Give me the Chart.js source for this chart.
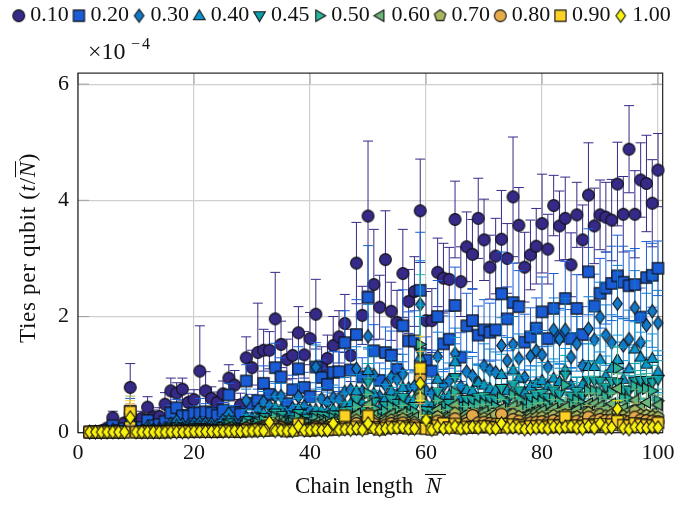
<!DOCTYPE html>
<html>
<head>
<meta charset="utf-8">
<title>Ties per qubit</title>
<script src="https://cdn.jsdelivr.net/npm/chart.js@4"></script>
<style>
  body { margin: 0; background: #fff; }
  canvas { display: block; }
</style>
</head>
<body>
<canvas id="myChart" width="677" height="508"></canvas>
<script>
const chainLengths = [2,3,4,5,6,7,8,9,10,
  11,12,13,14,15,16,17,18,19,20,
  21,22,23,24,25,26,27,28,29,30,
  31,32,33,34,35,36,37,38,39,40,
  41,42,43,44,45,46,47,48,49,50,
  51,52,53,54,55,56,57,58,59,60,
  61,62,63,64,65,66,67,68,69,70,
  71,72,73,74,75,76,77,78,79,80,
  81,82,83,84,85,86,87,88,89,90,
  91,92,93,94,95,96,97,98,99,100];

const seriesNames = ["0.10","0.20","0.30","0.40","0.45","0.50","0.60","0.70","0.80","0.90","1.00"];
const seriesColors = ["#352a87","#1a5cd6","#1279c9","#0d93d0","#0a9fab","#2bb59b","#6cb77a","#a9b760","#e5ab4a","#fdd225","#f9f10e"];
const seriesShapes = ["circle","square","diamond","up","down","right","left","pentagon","circle","square","diamond"];

const v10 = [.01,.02,.03,.08,.26,.05,.17,.78,.20,
  .25,.44,.27,.28,.49,.72,.68,.75,.52,.57,
  1.06,.72,.59,.52,.67,.94,.82,.48,1.29,1.12,
  1.38,1.42,1.42,1.96,1.52,1.26,1.33,1.72,1.34,1.62,
  2.04,1.13,1.28,1.50,1.65,1.88,1.33,2.92,2.02,3.73,
  2.55,2.16,2.98,2.09,1.90,2.74,2.26,2.43,3.82,1.93,
  1.93,2.76,2.66,2.64,3.67,2.60,3.20,3.07,3.69,3.32,
  2.85,3.04,3.33,3.00,4.06,3.57,2.85,3.06,3.21,3.60,
  3.16,3.91,3.56,3.69,2.89,3.75,3.32,4.09,3.56,3.75,
  3.71,3.66,4.28,3.76,4.88,3.76,4.35,4.29,3.95,4.52];
const e10 = [.01,.01,.02,.04,.11,.05,.08,.41,.10,
  .12,.18,.12,.15,.20,.22,.18,.19,.16,.17,
  .78,.33,.20,.18,.22,.23,.25,.20,.36,.30,
  .85,.36,.32,.80,.40,.35,.40,.45,.40,.45,
  .60,.35,.40,.50,.45,.50,.45,.70,.50,1.29,
  .95,.55,.84,.50,.55,.76,.55,.60,.89,.50,
  .55,.59,.60,.55,.66,.60,.60,.60,.69,.70,
  .55,.65,.84,.60,1.03,.65,.60,.60,.65,.85,
  .60,.52,.60,.71,.55,.56,.60,.90,.65,.60,
  .60,.70,.72,.65,.75,.75,.64,.83,.75,.63];

const v20 = [.01,.01,.02,.04,.12,.04,.07,.37,.06,
  .09,.21,.12,.14,.19,.34,.43,.29,.29,.34,
  .34,.36,.34,.30,.39,.65,.35,.32,.89,.50,
  .55,.85,.66,1.12,.96,.50,.74,1.10,.78,.62,
  1.13,.95,.83,1.04,1.05,1.55,1.08,1.69,.96,2.33,
  1.41,.90,1.38,1.33,1.09,1.84,1.58,1.58,2.45,1.25,
  1.06,2.00,1.53,1.61,2.19,1.30,1.84,1.93,1.68,1.77,
  1.73,1.77,2.39,1.96,2.24,2.17,1.56,1.65,1.80,2.08,
  1.62,2.14,1.66,2.31,1.62,2.14,1.69,2.77,2.18,2.40,
  2.49,2.57,2.70,2.59,2.53,2.55,1.99,2.67,2.71,2.83];
const e20 = [.01,.01,.01,.02,.05,.03,.04,.22,.04,
  .05,.08,.06,.07,.09,.13,.14,.10,.10,.12,
  .25,.14,.11,.10,.13,.20,.12,.11,.28,.16,
  .20,.30,.22,.42,.33,.18,.25,.38,.26,.24,
  .42,.30,.28,.36,.34,.55,.35,.60,.33,.89,
  .45,.30,.44,.42,.35,.62,.50,.52,1.00,.40,
  .36,.62,.48,.50,.66,.42,.56,.55,.50,.52,
  .50,.52,.72,.55,.68,.62,.48,.50,.52,.60,
  .46,.60,.48,.64,.50,.58,.48,.74,.55,.60,
  .62,.64,.70,.62,.60,.62,.50,.62,.55,.47];

const v30 = [.01,.01,.01,.02,.05,.02,.03,.27,.03,
  .04,.10,.05,.07,.08,.15,.20,.14,.12,.16,
  .17,.16,.15,.13,.21,.33,.18,.15,.55,.24,
  .40,.53,.46,.63,.63,.35,.42,.62,.45,.38,
  1.13,.58,.52,.60,.58,.70,.74,1.10,.71,1.66,
  .99,.62,.82,.95,.92,1.01,.76,.80,2.21,.72,
  .68,1.31,.81,.90,1.36,.79,1.05,.98,.86,1.15,
  1.08,1.04,1.50,1.24,1.52,1.28,.95,1.32,1.41,1.34,
  1.13,1.77,1.61,1.77,1.30,1.53,1.15,1.79,1.60,1.99,
  1.68,1.55,2.22,1.50,1.61,2.15,1.55,1.85,2.09,1.89];
const e30 = [.01,.01,.01,.01,.03,.02,.02,.16,.03,
  .03,.05,.04,.04,.05,.07,.09,.07,.06,.07,
  .09,.07,.07,.06,.09,.13,.08,.07,.20,.10,
  .15,.18,.16,.22,.22,.13,.15,.22,.17,.15,
  .38,.20,.18,.22,.20,.25,.26,.38,.25,.55,
  .33,.22,.28,.32,.30,.34,.27,.28,.75,.25,
  .24,.42,.28,.30,.44,.27,.35,.33,.30,.38,
  .36,.35,.48,.40,.48,.42,.32,.42,.45,.42,
  .36,.55,.50,.54,.42,.47,.38,.55,.50,.60,
  .52,.48,.66,.46,.50,.64,.48,.55,.62,.56];

const v40 = [.01,.01,.01,.01,.03,.01,.02,.22,.02,
  .03,.06,.03,.05,.05,.10,.13,.09,.08,.10,
  .11,.10,.10,.08,.14,.22,.12,.10,.27,.16,
  .26,.34,.30,.44,.40,.24,.28,.42,.32,.26,
  .40,.38,.36,.40,.38,.48,.50,.72,.50,1.07,
  .68,.42,.60,.72,.65,.78,.55,.58,1.30,.50,
  .46,.92,.60,.65,1.22,.60,.74,.72,.87,.82,
  .76,.73,1.00,.73,1.08,.94,.70,.80,.85,.90,
  .80,.94,.88,1.08,.82,.70,.83,1.14,1.14,1.26,
  .98,1.11,1.26,.92,1.10,1.44,1.30,1.18,1.28,1.05];
const e40 = [.01,.01,.01,.01,.02,.01,.02,.14,.02,
  .02,.03,.02,.03,.03,.05,.06,.05,.04,.05,
  .06,.05,.05,.04,.07,.09,.06,.05,.12,.07,
  .12,.14,.12,.18,.16,.10,.12,.17,.13,.11,
  .22,.15,.14,.16,.15,.19,.20,.28,.20,.40,
  .26,.16,.23,.27,.24,.29,.21,.22,.70,.19,
  .18,.34,.22,.24,.42,.23,.27,.26,.31,.29,
  .27,.26,.35,.26,.37,.33,.25,.28,.30,.31,
  .28,.33,.31,.37,.29,.25,.29,.39,.39,.42,
  .34,.38,.42,.32,.37,.47,.43,.40,.42,.36];

const v45 = [.01,.01,.01,.01,.02,.01,.02,.19,.02,
  .02,.05,.03,.04,.04,.08,.10,.07,.06,.08,
  .09,.08,.07,.07,.11,.17,.10,.08,.21,.12,
  .20,.26,.23,.34,.30,.18,.22,.33,.25,.20,
  .30,.29,.27,.31,.29,.37,.38,.56,.38,.86,
  .52,.33,.46,.56,.50,.60,.42,.45,1.39,.38,
  .36,.70,.46,.50,.95,.45,.57,.55,.60,.62,
  .58,.56,.76,.55,.82,.72,.53,.60,.64,.68,
  .60,.72,.66,.99,.62,.70,.63,.90,.90,.88,
  .78,.88,.86,.74,.72,.88,.90,.90,.86,.92];
const e45 = [.01,.01,.01,.01,.01,.01,.01,.13,.01,
  .01,.03,.02,.02,.02,.04,.05,.04,.03,.04,
  .05,.04,.04,.04,.05,.08,.05,.04,.10,.06,
  .09,.11,.10,.14,.13,.08,.10,.14,.11,.09,
  .13,.12,.11,.13,.12,.15,.16,.22,.16,.33,
  .21,.13,.18,.22,.20,.23,.17,.18,.80,.15,
  .14,.26,.18,.20,.34,.17,.22,.21,.23,.24,
  .22,.21,.28,.21,.30,.27,.20,.23,.24,.25,
  .22,.27,.25,.34,.23,.26,.23,.32,.32,.31,
  .28,.31,.31,.27,.26,.31,.32,.32,.30,.32];

const v50 = [.01,.01,.01,.01,.02,.01,.01,.16,.01,
  .02,.04,.02,.03,.03,.06,.08,.06,.05,.06,
  .07,.06,.06,.05,.09,.13,.08,.06,.17,.10,
  .16,.21,.18,.27,.24,.14,.17,.26,.20,.16,
  .24,.23,.21,.25,.23,.30,.30,.45,.30,.68,
  .42,.26,.37,.45,.40,.48,.34,.36,1.52,.30,
  .28,.56,.37,.40,.70,.36,.45,.44,.48,.50,
  .46,.45,.60,.44,.65,.58,.42,.48,.52,.54,
  .48,.58,.53,.82,.50,.56,.50,.72,.72,.70,
  .62,.70,1.11,.60,.58,.80,.75,.76,.72,.55];
const e50 = [.01,.01,.01,.01,.01,.01,.01,.12,.01,
  .01,.02,.01,.02,.02,.03,.04,.03,.03,.03,
  .04,.03,.03,.03,.04,.06,.04,.03,.08,.05,
  .07,.09,.08,.11,.10,.06,.07,.11,.08,.07,
  .10,.10,.09,.10,.09,.12,.12,.17,.12,.26,
  .16,.10,.14,.17,.15,.18,.13,.14,1.20,.12,
  .11,.20,.14,.15,.25,.14,.17,.16,.18,.18,
  .17,.16,.21,.16,.23,.21,.15,.17,.19,.19,
  .17,.21,.19,.28,.18,.20,.18,.25,.25,.24,
  .22,.24,.36,.21,.20,.27,.25,.26,.25,.20];

const v60 = [.01,.01,.01,.01,.01,.01,.01,.13,.01,
  .01,.03,.02,.02,.03,.04,.06,.04,.04,.05,
  .05,.05,.05,.04,.06,.10,.06,.05,.13,.08,
  .12,.15,.13,.20,.18,.10,.13,.19,.15,.12,
  .18,.17,.16,.18,.17,.22,.22,.32,.22,.48,
  .30,.19,.27,.32,.29,.34,.25,.26,.70,.22,
  .21,.40,.27,.29,.48,.26,.33,.31,.34,.36,
  .33,.32,.42,.32,.46,.41,.30,.34,.37,.38,
  .34,.42,.38,.44,.36,.40,.36,.50,.50,.46,
  .42,.50,.76,.42,.38,.56,.44,.52,.34,.48];
const e60 = [.01,.01,.01,.01,.01,.01,.01,.14,.01,
  .01,.01,.01,.01,.01,.02,.03,.02,.02,.02,
  .02,.02,.02,.02,.03,.04,.03,.02,.05,.03,
  .05,.06,.05,.08,.07,.04,.05,.07,.06,.05,
  .07,.07,.06,.07,.07,.08,.08,.12,.08,.18,
  .11,.07,.10,.12,.11,.13,.10,.10,.50,.08,
  .08,.15,.10,.11,.17,.10,.12,.11,.12,.13,
  .12,.12,.15,.12,.16,.15,.11,.12,.13,.14,
  .12,.15,.14,.16,.13,.14,.13,.18,.18,.16,
  .15,.18,.26,.15,.14,.19,.16,.18,.12,.17];

const v70 = [.01,.01,.01,.01,.01,.01,.01,.11,.01,
  .01,.02,.01,.02,.02,.03,.04,.03,.03,.03,
  .04,.03,.03,.03,.05,.07,.04,.03,.09,.06,
  .08,.10,.09,.14,.12,.07,.09,.13,.10,.08,
  .12,.12,.11,.13,.12,.15,.16,.22,.16,.33,
  .21,.13,.19,.22,.20,.24,.17,.18,.60,.15,
  .14,.28,.18,.20,.34,.18,.23,.22,.24,.25,
  .23,.30,.30,.22,.32,.28,.21,.24,.26,.27,
  .24,.30,.27,.31,.25,.28,.25,.35,.30,.32,
  .29,.31,.33,.29,.27,.38,.31,.30,.28,.27];
const e70 = [.01,.01,.01,.01,.01,.01,.01,.52,.01,
  .01,.01,.01,.01,.01,.01,.02,.01,.01,.01,
  .02,.01,.01,.01,.02,.03,.02,.01,.03,.02,
  .03,.04,.03,.05,.04,.03,.03,.05,.04,.03,
  .04,.04,.04,.05,.04,.05,.06,.08,.06,.12,
  .07,.05,.07,.08,.07,.09,.06,.06,.40,.05,
  .05,.10,.06,.07,.12,.06,.08,.08,.08,.09,
  .08,.10,.10,.08,.11,.10,.07,.08,.09,.09,
  .08,.10,.09,.11,.09,.10,.09,.12,.10,.11,
  .10,.11,.12,.10,.09,.13,.11,.10,.10,.09];

const v80 = [.01,.01,.01,.01,.01,.01,.01,.32,.01,
  .01,.02,.01,.01,.02,.02,.03,.02,.02,.02,
  .03,.03,.02,.02,.03,.05,.03,.03,.07,.04,
  .06,.07,.06,.10,.09,.05,.06,.09,.07,.06,
  .09,.08,.08,.09,.09,.11,.11,.16,.11,.24,
  .15,.09,.13,.16,.14,.17,.12,.13,.95,.10,
  .10,.20,.13,.14,.24,.13,.16,.30,.17,.18,
  .16,.15,.32,.16,.23,.20,.15,.17,.18,.19,
  .17,.21,.19,.22,.18,.20,.18,.27,.20,.23,
  .21,.22,.23,.21,.19,.27,.22,.21,.20,.19];
const e80 = [.01,.01,.01,.01,.01,.01,.01,.18,.01,
  .01,.01,.01,.01,.01,.01,.01,.01,.01,.01,
  .01,.01,.01,.01,.01,.02,.01,.01,.02,.02,
  .02,.03,.02,.03,.03,.02,.02,.03,.02,.02,
  .03,.03,.03,.03,.03,.04,.04,.06,.04,.08,
  .05,.03,.04,.05,.05,.06,.04,.04,.45,.04,
  .03,.07,.04,.05,.08,.04,.05,.10,.06,.06,
  .05,.05,.10,.05,.08,.07,.05,.06,.06,.06,
  .06,.07,.06,.07,.06,.07,.06,.09,.07,.08,
  .07,.07,.08,.07,.06,.09,.07,.07,.07,.06];

const v90 = [.01,.01,.01,.01,.01,.01,.01,.36,.01,
  .01,.01,.01,.01,.01,.02,.02,.02,.02,.02,
  .02,.02,.02,.02,.03,.03,.02,.02,.04,.03,
  .05,.04,.04,.06,.05,.03,.04,.15,.05,.04,
  .06,.05,.05,.06,.06,.29,.07,.10,.07,.29,
  .09,.06,.08,.10,.09,.11,.08,.08,1.11,.07,
  .06,.12,.16,.09,.15,.08,.10,.09,.10,.11,
  .10,.09,.14,.10,.14,.12,.09,.11,.11,.12,
  .10,.13,.12,.27,.11,.12,.11,.14,.12,.14,
  .13,.14,.19,.13,.12,.16,.14,.13,.12,.17];
const e90 = [.01,.01,.01,.01,.01,.01,.01,.19,.01,
  .01,.01,.01,.01,.01,.01,.01,.01,.01,.01,
  .01,.01,.01,.01,.01,.01,.01,.01,.02,.01,
  .02,.01,.01,.02,.02,.01,.01,.06,.02,.01,
  .02,.02,.02,.02,.02,.10,.03,.04,.03,.10,
  .03,.02,.03,.04,.03,.04,.03,.03,.55,.03,
  .02,.04,.06,.03,.05,.03,.04,.03,.04,.04,
  .04,.03,.05,.04,.05,.04,.03,.04,.04,.04,
  .04,.05,.04,.10,.04,.04,.04,.05,.04,.05,
  .05,.05,.07,.05,.04,.06,.05,.05,.04,.06];

const v100 = [.01,.01,.01,.01,.01,.01,.01,.26,.01,
  .01,.01,.01,.01,.01,.01,.01,.01,.01,.02,
  .02,.02,.02,.02,.02,.02,.03,.02,.03,.03,
  .03,.03,.18,.03,.04,.03,.03,.11,.04,.04,
  .05,.04,.04,.16,.05,.06,.05,.07,.05,.16,
  .07,.05,.07,.08,.08,.09,.07,.07,.85,.22,
  .05,.10,.07,.08,.11,.07,.08,.10,.08,.11,
  .07,.07,.16,.08,.09,.08,.06,.07,.08,.09,
  .07,.10,.08,.10,.11,.08,.07,.11,.08,.16,
  .08,.09,.41,.08,.06,.10,.09,.08,.10,.09];
const e100 = [.01,.01,.01,.01,.01,.01,.01,.10,.01,
  .01,.01,.01,.01,.01,.01,.01,.01,.01,.01,
  .01,.01,.01,.01,.01,.01,.01,.01,.01,.01,
  .01,.01,.06,.01,.02,.01,.01,.04,.02,.02,
  .02,.02,.02,.05,.02,.02,.02,.03,.02,.06,
  .03,.02,.03,.03,.03,.03,.03,.03,.30,.08,
  .02,.04,.03,.03,.04,.03,.03,.04,.03,.04,
  .03,.03,.06,.03,.03,.03,.02,.03,.03,.03,
  .03,.04,.03,.04,.04,.03,.03,.04,.03,.06,
  .03,.03,.14,.03,.02,.04,.03,.03,.04,.03];

const allValues = [v10,v20,v30,v40,v45,v50,v60,v70,v80,v90,v100];
const allErrors = [e10,e20,e30,e40,e45,e50,e60,e70,e80,e90,e100];

const serif = "'Liberation Serif', serif";
const inkColor = "#111";

// markers are small canvases, chart.js has no thin diamond or pentagon
function makeMarker(shape, color) {
  const c = document.createElement("canvas");
  c.width = 17; c.height = 17;
  const g = c.getContext("2d");
  g.translate(8.5, 8.5);
  g.fillStyle = color;
  g.strokeStyle = "#111";
  g.lineWidth = 1.1;
  g.lineJoin = "miter";
  g.beginPath();
  if (shape === "circle") {
    g.arc(0, 0, 5.9, 0, Math.PI * 2);
  } else if (shape === "square") {
    g.rect(-5.6, -5.6, 11.2, 11.2);
  } else if (shape === "diamond") {
    g.moveTo(0, -6.6); g.lineTo(4.8, 0); g.lineTo(0, 6.6); g.lineTo(-4.8, 0); g.closePath();
  } else if (shape === "pentagon") {
    for (let i = 0; i < 5; i++) {
      const a = -Math.PI / 2 + i * Math.PI * 2 / 5;
      g.lineTo(6 * Math.cos(a), 6 * Math.sin(a));
    }
    g.closePath();
  } else {
    const turn = { up: 0, right: 90, down: 180, left: 270 }[shape];
    g.rotate(turn * Math.PI / 180);
    g.moveTo(0, -6); g.lineTo(5.8, 4); g.lineTo(-5.8, 4); g.closePath();
  }
  g.fill();
  g.stroke();
  return c;
}

// error bars go under each series' own markers
const errorBars = {
  id: "errorBars",
  beforeDatasetDraw(chart, args) {
    const { ctx, scales } = chart;
    const i = args.index;
    ctx.save();
    ctx.strokeStyle = seriesColors[i];
    ctx.lineWidth = 1;
    chainLengths.forEach((n, k) => {
      const x = scales.x.getPixelForValue(n);
      const top = scales.y.getPixelForValue(allValues[i][k] + allErrors[i][k]);
      const low = scales.y.getPixelForValue(Math.max(allValues[i][k] - allErrors[i][k], 0));
      ctx.beginPath();
      ctx.moveTo(x, top); ctx.lineTo(x, low);
      ctx.moveTo(x - 5, top); ctx.lineTo(x + 5, top);
      ctx.moveTo(x - 5, low); ctx.lineTo(x + 5, low);
      ctx.stroke();
    });
    ctx.restore();
  },
};

// axes box and inward ticks, drawn under the markers
const axisBox = {
  id: "axisBox",
  beforeDatasetsDraw(chart) {
    const { ctx, chartArea: a, scales } = chart;
    ctx.save();
    ctx.strokeStyle = "#a0a0a0";
    ctx.lineWidth = 1;
    ctx.beginPath();
    scales.x.ticks.forEach(t => {
      const x = scales.x.getPixelForValue(t.value);
      ctx.moveTo(x, a.top); ctx.lineTo(x, a.top + 11);
      ctx.moveTo(x, a.bottom); ctx.lineTo(x, a.bottom - 11);
    });
    scales.y.ticks.forEach(t => {
      const y = scales.y.getPixelForValue(t.value);
      ctx.moveTo(a.left, y); ctx.lineTo(a.left + 11, y);
      ctx.moveTo(a.right, y); ctx.lineTo(a.right - 11, y);
    });
    ctx.stroke();
    ctx.strokeStyle = "#111";
    ctx.lineWidth = 1.1;
    ctx.strokeRect(a.left, a.top, a.right - a.left, a.bottom - a.top);
    ctx.restore();
  },
};

function roman(size) { return size + "px " + serif; }
function italic(size) { return "italic " + size + "px " + serif; }

// titles need italics and an overline so they are set by hand
const mathLabels = {
  id: "mathLabels",
  afterDraw(chart) {
    const { ctx } = chart;
    ctx.save();
    ctx.fillStyle = inkColor;
    ctx.strokeStyle = inkColor;
    ctx.lineWidth = 1;
    ctx.textBaseline = "alphabetic";
    ctx.textAlign = "left";

    // x title
    ctx.font = roman(23);
    ctx.fillText("Chain length", 295, 493);
    ctx.font = italic(23);
    ctx.fillText("N", 426, 493);
    ctx.beginPath();
    ctx.moveTo(425, 474.5); ctx.lineTo(446, 474.5);
    ctx.stroke();

    // y title
    ctx.save();
    ctx.translate(35, 343);
    ctx.rotate(-Math.PI / 2);
    ctx.letterSpacing = "0.7px";
    ctx.font = roman(23);
    ctx.fillText("Ties per qubit (", 0, 0);
    let w = ctx.measureText("Ties per qubit (").width;
    ctx.font = italic(23);
    ctx.fillText("t", w, 0);
    w += ctx.measureText("t").width;
    ctx.font = roman(23);
    ctx.fillText("/", w, 0);
    w += ctx.measureText("/").width;
    ctx.font = italic(23);
    ctx.fillText("N", w, 0);
    const nw = ctx.measureText("N").width;
    ctx.beginPath();
    ctx.moveTo(w, -19.5); ctx.lineTo(w + nw, -19.5);
    ctx.stroke();
    w += nw;
    ctx.font = roman(23);
    ctx.fillText(")", w, 0);
    ctx.restore();

    // axis multiplier
    ctx.font = roman(24);
    ctx.fillText("×10", 88, 59);
    ctx.letterSpacing = "2px";
    ctx.font = roman(16);
    ctx.fillText("−4", 131, 49);
    ctx.restore();
  },
};

const datasets = seriesNames.map((name, i) => ({
  label: name,
  data: chainLengths.map((n, k) => ({ x: n, y: allValues[i][k] })),
  pointStyle: makeMarker(seriesShapes[i], seriesColors[i]),
  backgroundColor: seriesColors[i],
  borderColor: seriesColors[i],
  showLine: false,
  clip: false,
  order: seriesNames.length - i, // later series paint on top
}));

const config = {
  type: "scatter",
  data: { datasets: datasets },
  plugins: [errorBars, axisBox, mathLabels],
  options: {
    responsive: false,
    animation: false,
    layout: { padding: { left: 8.5, right: -6, top: -5, bottom: 0 } },
    plugins: {
      tooltip: { enabled: false },
      title: { display: true, text: " ", weight: 500, padding: { top: 0, bottom: 10 }, font: { size: 22, family: serif } },
      legend: {
        align: "start",
        labels: {
          usePointStyle: true,
          boxWidth: 1,
          padding: 9.7,
          color: inkColor,
          font: { size: 22, family: serif },
          sort: (a, b) => a.datasetIndex - b.datasetIndex,
        },
      },
    },
    scales: {
      x: {
        type: "linear",
        min: 0,
        max: 100.8,
        afterFit: s => { s.height = 75.3; s.paddingRight = 14.3; },
        border: { display: false },
        grid: { color: "#cfcfcf", lineWidth: 1.2, drawTicks: false },
        ticks: { stepSize: 20, includeBounds: false, maxRotation: 0, padding: 7, color: inkColor, font: { size: 22, family: serif } },
      },
      y: {
        min: 0,
        max: 6.19,
        afterFit: s => { s.width = 69.5; },
        border: { display: false },
        grid: { color: "#cfcfcf", lineWidth: 1.2, drawTicks: false },
        ticks: { stepSize: 2, includeBounds: false, padding: 9, color: inkColor, font: { size: 22, family: serif } },
      },
    },
  },
};
const myChart = new Chart(document.getElementById("myChart"), config);
</script>
</body>
</html>
